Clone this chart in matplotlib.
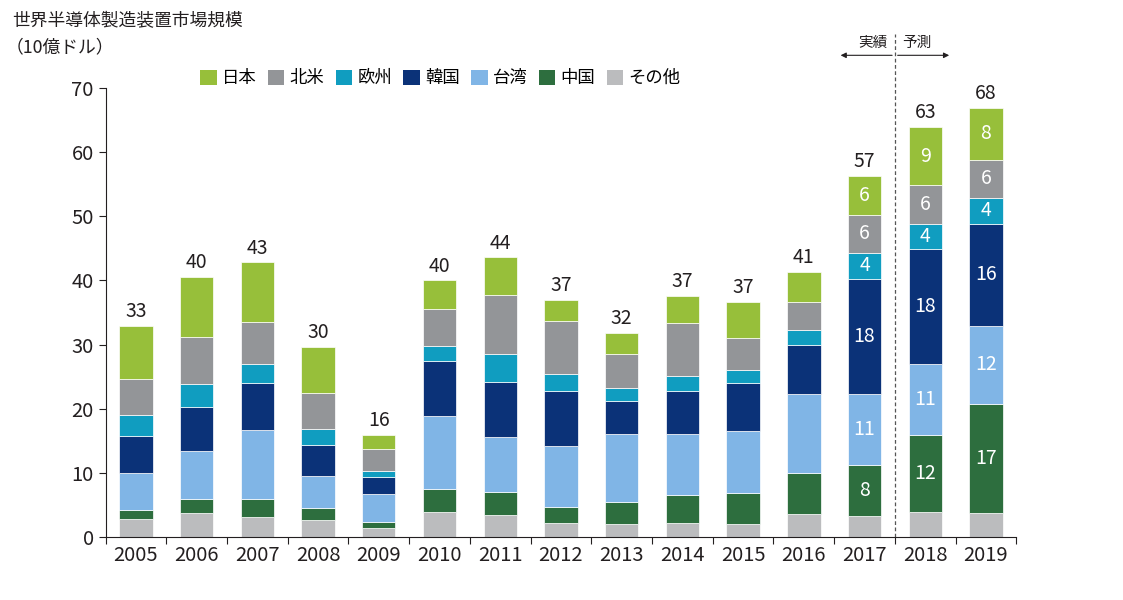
import numpy as np
import matplotlib.pyplot as plt
from matplotlib.patches import Patch

plt.rcParams['font.family'] = ['Noto Sans CJK JP', 'DejaVu Sans']

years = ['2005', '2006', '2007', '2008', '2009', '2010', '2011', '2012',
         '2013', '2014', '2015', '2016', '2017', '2018', '2019']

# stacked from bottom: その他, 中国, 台湾, 韓国, 欧州, 北米, 日本
other  = [2.85, 3.74, 3.1, 2.65, 1.46, 3.9, 3.43, 2.13, 2.03, 2.18, 1.98, 3.59, 3.27, 3.9, 3.8]
china  = [1.35, 2.26, 2.9, 1.85, 0.94, 3.6, 3.64, 2.47, 3.43, 4.32, 4.92, 6.41, 7.93, 11.95, 17.0]
taiwan = [5.8, 7.4, 10.7, 5.0, 4.35, 11.4, 8.53, 9.6, 10.6, 9.5, 9.6, 12.3, 11.1, 11.05, 12.1]
korea  = [5.8, 6.9, 7.3, 4.9, 2.55, 8.5, 8.6, 8.6, 5.2, 6.8, 7.5, 7.7, 18.0, 18.0, 15.95]
europe = [3.2, 3.6, 2.9, 2.5, 1.0, 2.4, 4.3, 2.6, 1.95, 2.35, 2.0, 2.2, 4.0, 3.95, 4.05]
na     = [5.7, 7.3, 6.6, 5.6, 3.4, 5.7, 9.3, 8.2, 5.3, 8.25, 5.1, 4.5, 5.95, 6.05, 5.9]
japan  = [8.2, 9.3, 9.3, 7.1, 2.2, 4.5, 5.8, 3.35, 3.35, 4.2, 5.5, 4.6, 6.05, 9.0, 8.1]

totals = [33, 40, 43, 30, 16, 40, 44, 37, 32, 37, 37, 41, 57, 63, 68]

# value labels shown inside the last three bars
inner = {
    '2017': {'china': 8, 'taiwan': 11, 'korea': 18, 'europe': 4, 'na': 6, 'japan': 6},
    '2018': {'china': 12, 'taiwan': 11, 'korea': 18, 'europe': 4, 'na': 6, 'japan': 9},
    '2019': {'china': 17, 'taiwan': 12, 'korea': 16, 'europe': 4, 'na': 6, 'japan': 8},
}

series = [
    ('other', 'その他', other, '#BBBCBE'),
    ('china', '中国', china, '#2D6E3E'),
    ('taiwan', '台湾', taiwan, '#80B5E6'),
    ('korea', '韓国', korea, '#0B3278'),
    ('europe', '欧州', europe, '#109DC0'),
    ('na', '北米', na, '#939598'),
    ('japan', '日本', japan, '#97BF3A'),
]

fig = plt.figure(figsize=(11.23, 6), dpi=100)
ax = fig.add_axes([0.094, 0.105, 0.811, 0.7483])

x = np.arange(len(years))
width = 0.55
bottom = np.zeros(len(years))
tops = {}
for key, name, vals, color in series:
    vals = np.array(vals)
    ax.bar(x, vals, width, bottom=bottom, color=color, edgecolor='white', linewidth=0.5)
    tops[key] = (bottom.copy(), vals)
    bottom = bottom + vals

for i, yr in enumerate(years):
    ax.text(x[i], bottom[i] + 0.6, str(totals[i]), ha='center', va='bottom',
            fontsize=14, color='#231F20')
    if yr in inner:
        for key, v in inner[yr].items():
            b, vals = tops[key]
            ax.text(x[i], b[i] + vals[i] / 2, str(v), ha='center', va='center',
                    fontsize=14, color='white')

ax.set_xlim(-0.5, 14.5)
ax.set_ylim(0, 70)
ax.set_yticks(range(0, 71, 10))
ax.set_xticks(x)
ax.set_xticklabels(years)
ax.set_xticks(np.arange(-0.5, 15, 1), minor=True)
ax.tick_params(axis='x', which='major', length=0, pad=6, labelsize=14.5, labelcolor='#231F20')
ax.tick_params(axis='x', which='minor', length=5, width=0.8, color='#231F20')
ax.tick_params(axis='y', length=5, width=0.8, labelsize=14.5, labelcolor='#231F20', color='#231F20')
for s in ['top', 'right']:
    ax.spines[s].set_visible(False)
for s in ['left', 'bottom']:
    ax.spines[s].set_linewidth(0.8)
    ax.spines[s].set_color('#231F20')

# actual / forecast divider
ax.plot([12.5, 12.5], [0, 78.5], ls=(0, (3, 2)), lw=0.9, color='#555555', clip_on=False)
ax.annotate('', xy=(11.56, 75.1), xytext=(12.5, 75.1),
            arrowprops=dict(arrowstyle='-|>', lw=0.8, color='#231F20', mutation_scale=8),
            annotation_clip=False)
ax.annotate('', xy=(13.44, 75.1), xytext=(12.5, 75.1),
            arrowprops=dict(arrowstyle='-|>', lw=0.8, color='#231F20', mutation_scale=8),
            annotation_clip=False)
ax.text(12.38, 75.9, '実績', ha='right', va='bottom', fontsize=10.5, color='#231F20')
ax.text(12.62, 75.9, '予測', ha='left', va='bottom', fontsize=10.5, color='#231F20')

fig.text(0.011, 0.965, '世界半導体製造装置市場規模', ha='left', va='center',
         fontsize=12.8, color='#231F20')
fig.text(0.005, 0.921, '（10億ドル）', ha='left', va='center',
         fontsize=12.8, color='#231F20')

handles = [Patch(facecolor=c, label=n) for k, n, v, c in reversed(series)]
fig.legend(handles=handles, loc='center', bbox_to_anchor=(0.392, 0.87), ncol=7,
           frameon=False, fontsize=12.5, handlelength=0.95, handleheight=0.95,
           handletextpad=0.3, columnspacing=0.65, borderaxespad=0)

fig.savefig('out.png', dpi=100)
